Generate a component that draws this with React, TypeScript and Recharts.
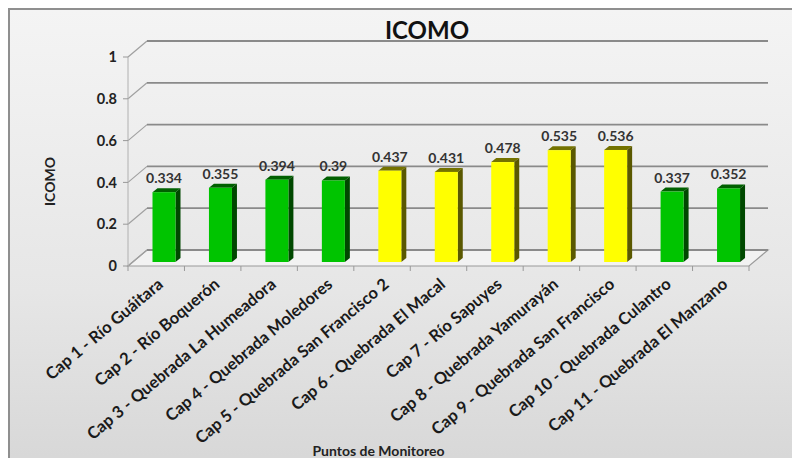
import { BarChart, Bar, XAxis, YAxis, CartesianGrid, LabelList, Label } from 'recharts'

const categories = [
  'Cap 1 - Río Guáitara',
  'Cap 2 - Río Boquerón',
  'Cap 3 - Quebrada La Humeadora',
  'Cap 4 - Quebrada Moledores',
  'Cap 5 - Quebrada San Francisco 2',
  'Cap 6 - Quebrada El Macal',
  'Cap 7 - Río Sapuyes',
  'Cap 8 - Quebrada Yamurayán',
  'Cap 9 - Quebrada San Francisco',
  'Cap 10 - Quebrada Culantro',
  'Cap 11 - Quebrada El Manzano',
]
const icomo = [0.334, 0.355, 0.394, 0.39, 0.437, 0.431, 0.478, 0.535, 0.536, 0.337, 0.352]
const yTicks = [0, 0.2, 0.4, 0.6, 0.8, 1]

// contamination bands: below 0.4 low (green), 0.4 - 0.6 medium (yellow)
const bandLimits = [0.4, 0.6]
const bandColors = [
  { front: '#00c400', side: '#004800', top: '#006000' },
  { front: '#ffff00', side: '#5a5800', top: '#747200' },
]

const data = categories.map((name, i) => ({ name, value: icomo[i] }))

const FONT = 'Lato, "Open Sans", sans-serif'
// 3D offsets: back wall, and where the bars stand inside the box
const BACK_X = 19
const BACK_Y = 16
const BAR_DX = 7.5
const BAR_DY = -4
const DEPTH_X = 5
const DEPTH_Y = 4

function colorsFor(v: number) {
  const idx = bandLimits.findIndex(l => v < l)
  return bandColors[idx < 0 ? bandColors.length - 1 : idx]
}

function Bar3D(props: any) {
  const { x, y, width, height, payload } = props
  if (width == null || height == null) return null
  const c = colorsFor(payload.value)
  const fx = x + BAR_DX
  const fy = y + BAR_DY
  return (
    <g>
      <polygon
        points={`${fx},${fy} ${fx + DEPTH_X},${fy - DEPTH_Y} ${fx + width + DEPTH_X},${fy - DEPTH_Y} ${fx + width},${fy}`}
        fill={c.top}
      />
      <polygon
        points={`${fx + width},${fy} ${fx + width + DEPTH_X},${fy - DEPTH_Y} ${fx + width + DEPTH_X},${fy + height - DEPTH_Y} ${fx + width},${fy + height}`}
        fill={c.side}
      />
      <rect x={fx} y={fy} width={width} height={height} fill={c.front} />
    </g>
  )
}

function WallLine(p: any) {
  const isFloor = Math.abs(p.y1 - (p.y + p.height)) < 1
  const stroke = '#8a8a8a'
  return (
    <g key={`wall-${p.index}`}>
      {isFloor && (
        <polygon
          points={`${p.x1},${p.y1} ${p.x1 + BACK_X},${p.y1 - BACK_Y} ${p.x2 + BACK_X},${p.y1 - BACK_Y} ${p.x2},${p.y1}`}
          fill="#f2f2f2"
          stroke="#9a9a9a"
          strokeWidth={1.2}
        />
      )}
      <line x1={p.x1} y1={p.y1} x2={p.x1 + BACK_X} y2={p.y1 - BACK_Y} stroke="#a0a0a0" strokeWidth={1.2} />
      <line x1={p.x1 + BACK_X} y1={p.y1 - BACK_Y} x2={p.x2 + BACK_X} y2={p.y1 - BACK_Y} stroke={stroke} strokeWidth={1.8} />
    </g>
  )
}

function CategoryTick(props: any) {
  const { x, y, payload, index } = props
  const half = payload.offset ?? 28
  return (
    <g>
      {index === 0 && <line x1={x - half} y1={y - 8} x2={x - half} y2={y - 3} stroke="#999" />}
      <line x1={x + half} y1={y - 8} x2={x + half} y2={y - 3} stroke="#999" />
      <text
        x={x + 8}
        y={y + 12}
        transform={`rotate(-40, ${x + 8}, ${y + 12})`}
        textAnchor="end"
        fontFamily={FONT}
        fontWeight={700}
        fontSize={16.5}
        fill="#1a1a1a"
      >
        {payload.value}
      </text>
    </g>
  )
}

function ValueLabel(props: any) {
  const { x, y, width, value } = props
  return (
    <text
      x={x + width / 2 + BAR_DX}
      y={y + BAR_DY - DEPTH_Y - 5}
      textAnchor="middle"
      fontFamily={FONT}
      fontWeight={700}
      fontSize={14}
      fill="#333"
    >
      {value}
    </text>
  )
}

export default function App() {
  return (
    <div style={{ position: 'absolute', left: 0, top: 0, width: 792, height: 458, background: '#fff', overflow: 'hidden' }}>
      <div
        style={{
          position: 'absolute',
          left: 8,
          top: 8,
          width: 800,
          height: 470,
          border: '2px solid #8f8f8f',
          background: 'linear-gradient(#f4f4f4, #e6e6e6 60%, #d6d6d6)',
        }}
      />
      <div
        style={{
          position: 'absolute',
          left: 327,
          top: 15,
          width: 200,
          textAlign: 'center',
          fontFamily: FONT,
          fontWeight: 700,
          fontSize: 24,
          color: '#111',
        }}
      >
        ICOMO
      </div>
      <BarChart
        width={792}
        height={458}
        data={data}
        margin={{ top: 57, right: 43, left: 68, bottom: 7 }}
        style={{ position: 'absolute', left: 0, top: 0 }}
      >
        <CartesianGrid vertical={false} horizontal={WallLine} />
        <XAxis
          dataKey="name"
          interval={0}
          height={185}
          tick={CategoryTick}
          tickLine={false}
          axisLine={false}
        >
          <Label
            content={({ viewBox }: any) => (
              <text
                x={viewBox.x + viewBox.width / 2 - 60}
                y={viewBox.y + viewBox.height + 5}
                textAnchor="middle"
                fontFamily={FONT}
                fontWeight={700}
                fontSize={14}
                fill="#222"
              >
                Puntos de Monitoreo
              </text>
            )}
          />
        </XAxis>
        <YAxis
          width={60}
          domain={[0, 1]}
          ticks={yTicks}
          tick={{ fontFamily: FONT, fontWeight: 700, fontSize: 14.5, fill: '#222' }}
          tickLine={{ stroke: '#999' }}
          axisLine={{ stroke: '#b0b0b0' }}
          tickSize={5}
          tickMargin={6}
        >
          <Label
            content={({ viewBox }: any) => {
              const cx = viewBox.x - 17
              const cy = viewBox.y + viewBox.height / 2 + 20
              return (
                <text
                  x={cx}
                  y={cy}
                  transform={`rotate(-90, ${cx}, ${cy})`}
                  textAnchor="middle"
                  dominantBaseline="middle"
                  fontFamily={FONT}
                  fontWeight={700}
                  fontSize={14}
                  fill="#222"
                >
                  ICOMO
                </text>
              )
            }}
          />
        </YAxis>
        <Bar dataKey="value" barSize={23} shape={Bar3D} isAnimationActive={false}>
          <LabelList dataKey="value" content={ValueLabel} />
        </Bar>
      </BarChart>
    </div>
  )
}
